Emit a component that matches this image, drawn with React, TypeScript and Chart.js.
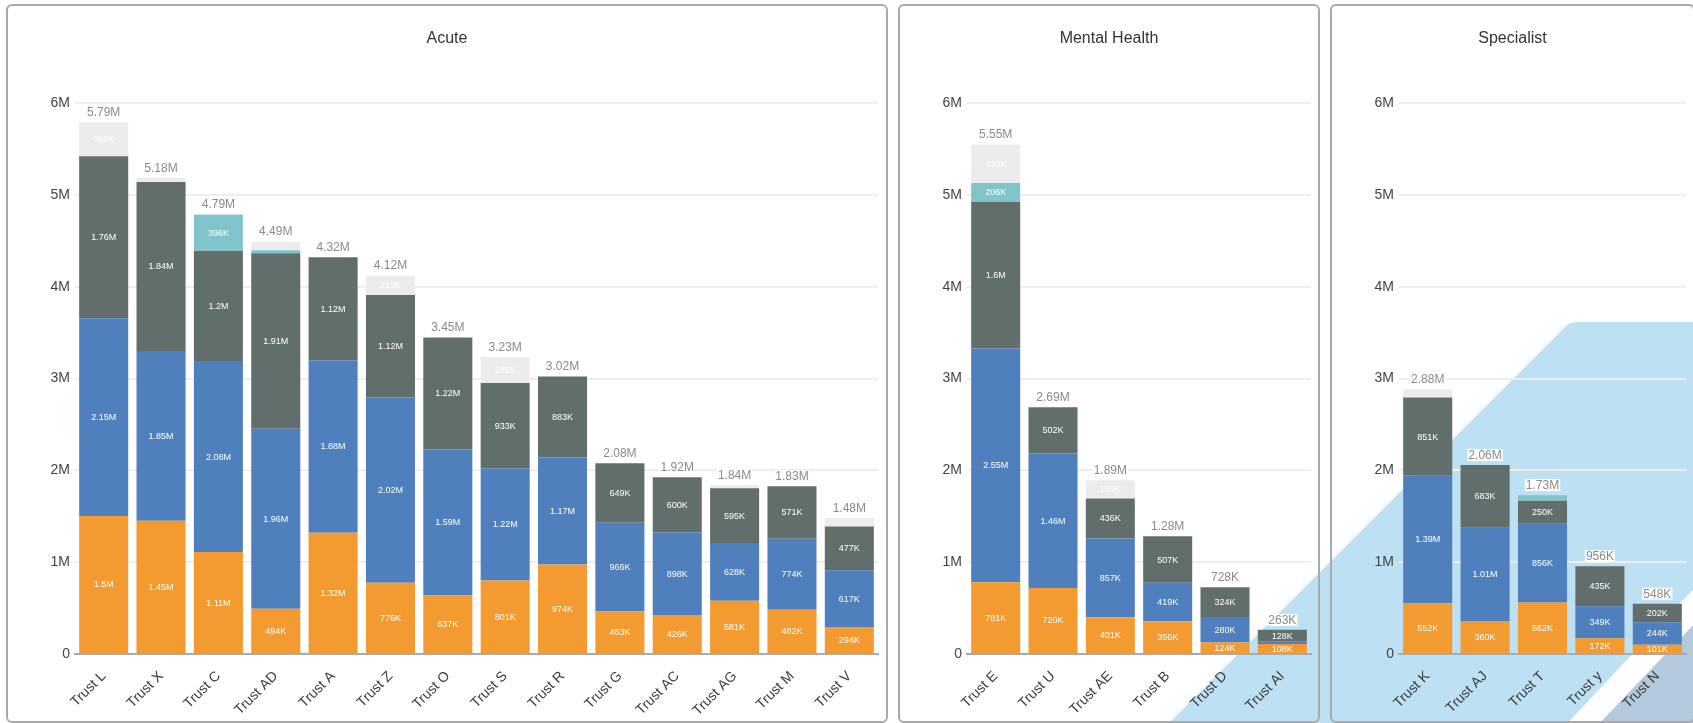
import React, { useEffect, useRef } from 'react';
import { Chart, registerables } from 'chart.js';

Chart.register(...registerables);

const FONT = "'Liberation Sans', Arial, Helvetica, sans-serif";
Chart.defaults.font.family = FONT;

// ---------- data ----------
const seriesNames = ['Band 1', 'Band 2', 'Band 3', 'Band 4', 'Band 5'];
const seriesColors = ['#f39a31', '#4f80bd', '#616e6b', '#81c4cc', '#ececec'];

const yTickValues = [0, 1000000, 2000000, 3000000, 4000000, 5000000, 6000000];
const yTickLabels = ['0', '1M', '2M', '3M', '4M', '5M', '6M'];

const acuteTrusts = ['Trust L', 'Trust X', 'Trust C', 'Trust AD', 'Trust A', 'Trust Z', 'Trust O', 'Trust S', 'Trust R', 'Trust G', 'Trust AC', 'Trust AG', 'Trust M', 'Trust V'];
const acuteOrange = [1504000, 1450000, 1110000, 494000, 1320000, 776000, 637000, 801000, 974000, 463000, 426000, 581000, 482000, 294000];
const acuteBlue = [2153000, 1850000, 2080000, 1960000, 1880000, 2016000, 1590000, 1218000, 1166000, 966000, 898000, 628000, 774000, 617000];
const acuteGrey = [1764000, 1840000, 1200000, 1910000, 1120000, 1118000, 1220000, 933000, 883000, 649000, 600000, 595000, 571000, 477000];
const acuteTeal = [0, 0, 396000, 33000, 0, 0, 0, 0, 0, 0, 0, 0, 0, 0];
const acuteLight = [369000, 42000, 0, 93000, 0, 210000, 0, 281000, 0, 0, 0, 36000, 0, 92000];

const mentalTrusts = ['Trust E', 'Trust U', 'Trust AE', 'Trust B', 'Trust D', 'Trust AI'];
const mentalOrange = [781000, 720000, 401000, 356000, 124000, 108000];
const mentalBlue = [2546000, 1464000, 857000, 419000, 280000, 27000];
const mentalGrey = [1596000, 502000, 436000, 507000, 324000, 128000];
const mentalTeal = [206000, 0, 0, 0, 0, 0];
const mentalLight = [420000, 0, 199000, 0, 0, 0];

const specialistTrusts = ['Trust K', 'Trust AJ', 'Trust T', 'Trust y', 'Trust N'];
const specialistOrange = [552000, 360000, 562000, 172000, 101400];
const specialistBlue = [1390000, 1014000, 856000, 349000, 244000];
const specialistGrey = [851000, 683000, 250000, 435000, 202400];
const specialistTeal = [0, 0, 62000, 0, 0];
const specialistLight = [87000, 0, 0, 0, 0];

// ---------- helpers ----------
const fmt = (v: number) =>
  v >= 1e6 ? parseFloat((v / 1e6).toPrecision(3)) + 'M' : Math.round(v / 1e3) + 'K';

const labelPlugin = {
  id: 'segLabels',
  afterDatasetsDraw(chart: any) {
    const ctx = chart.ctx;
    const n = chart.data.labels.length;
    ctx.save();
    ctx.textAlign = 'center';
    ctx.textBaseline = 'middle';
    ctx.font = `9px ${FONT}`;
    ctx.fillStyle = '#ffffff';
    chart.data.datasets.forEach((ds: any, i: number) => {
      const meta = chart.getDatasetMeta(i);
      meta.data.forEach((bar: any, j: number) => {
        const v = ds.data[j];
        if (v >= 100000) ctx.fillText(fmt(v), bar.x, (bar.y + bar.base) / 2 + 0.5);
      });
    });
    const ys = chart.scales.y;
    ctx.font = `12px ${FONT}`;
    for (let j = 0; j < n; j++) {
      const total = chart.data.datasets.reduce((s: number, ds: any) => s + (ds.data[j] || 0), 0);
      const bar = chart.getDatasetMeta(0).data[j];
      const ty = ys.getPixelForValue(total) - 10;
      const text = fmt(total);
      const w = ctx.measureText(text).width;
      ctx.fillStyle = '#ffffff';
      ctx.fillRect(bar.x - w / 2 - 1, ty - 6, w + 2, 12);
      ctx.fillStyle = '#8a8a8a';
      ctx.fillText(text, bar.x, ty + 0.5);
    }
    ctx.restore();
  },
};

type PanelCfg = {
  title: string;
  left: number;
  width: number;
  padRight: number;
  labels: string[];
  series: number[][];
};

const PANEL_TOP = 4;
const PANEL_H = 719;

const panels: PanelCfg[] = [
  { title: 'Acute', left: 6, width: 882, padRight: 8, labels: acuteTrusts, series: [acuteOrange, acuteBlue, acuteGrey, acuteTeal, acuteLight] },
  { title: 'Mental Health', left: 898, width: 422, padRight: 7, labels: mentalTrusts, series: [mentalOrange, mentalBlue, mentalGrey, mentalTeal, mentalLight] },
  { title: 'Specialist', left: 1330, width: 365, padRight: 7, labels: specialistTrusts, series: [specialistOrange, specialistBlue, specialistGrey, specialistTeal, specialistLight] },
];

function makeConfig(cfg: PanelCfg): any {
  return {
    type: 'bar',
    data: {
      labels: cfg.labels,
      datasets: cfg.series.map((s, i) => ({
        label: seriesNames[i],
        data: s,
        backgroundColor: seriesColors[i],
        borderWidth: 0,
        barPercentage: 0.855,
        categoryPercentage: 1,
        stack: 'total',
      })),
    },
    options: {
      animation: false,
      responsive: false,
      maintainAspectRatio: false,
      layout: { padding: { top: 97, right: cfg.padRight, bottom: 0, left: 0 } },
      plugins: { legend: { display: false }, tooltip: { enabled: false }, title: { display: false } },
      scales: {
        x: {
          stacked: true,
          grid: { display: false, drawTicks: false },
          border: { display: true, color: '#aaaaaa', width: 2 },
          ticks: {
            autoSkip: false,
            minRotation: 45,
            maxRotation: 45,
            padding: 14,
            color: '#3c3c3c',
            font: { size: 14, family: FONT },
          },
          afterFit: (s: any) => {
            s.height = 67;
          },
        },
        y: {
          stacked: true,
          min: 0,
          max: 6000000,
          grid: { color: '#eeeeee', lineWidth: 2, drawTicks: false },
          border: { display: false },
          afterBuildTicks: (s: any) => {
            s.ticks = yTickValues.map((v) => ({ value: v }));
          },
          ticks: {
            padding: 5,
            color: '#444444',
            font: { size: 14, family: FONT },
            callback: (v: number) => yTickLabels[yTickValues.indexOf(v)] ?? '',
          },
          afterFit: (s: any) => {
            s.width = 67;
          },
        },
      },
    },
    plugins: [labelPlugin],
  };
}

function Panel({ cfg }: { cfg: PanelCfg }) {
  const ref = useRef<HTMLCanvasElement>(null);
  const w = cfg.width - 4;
  const h = PANEL_H - 4;
  useEffect(() => {
    const chart = new Chart(ref.current as HTMLCanvasElement, makeConfig(cfg));
    return () => chart.destroy();
  }, []);
  return (
    <div
      style={{
        position: 'absolute',
        left: cfg.left,
        top: PANEL_TOP,
        width: cfg.width,
        height: PANEL_H,
        border: '2px solid #aaaaaa',
        borderRadius: 6,
        boxSizing: 'border-box',
      }}
    >
      <canvas ref={ref} width={w} height={h} style={{ position: 'absolute', left: 0, top: 0, width: w, height: h }} />
      <div
        style={{
          position: 'absolute',
          top: 22,
          left: 0,
          right: 0,
          textAlign: 'center',
          fontFamily: FONT,
          fontSize: 16,
          lineHeight: '20px',
          color: '#333333',
        }}
      >
        {cfg.title}
      </div>
    </div>
  );
}

export default function App() {
  return (
    <div style={{ position: 'fixed', left: 0, top: 0, width: '100vw', height: '100vh', overflow: 'hidden', background: '#ffffff' }}>
      <svg width={1693} height={723} style={{ position: 'absolute', left: 0, top: 0 }}>
        <path d="M1578 322 L1700 322 L1700 730 L1162 730 L1566 326 Q1570 322 1578 322 Z" fill="#bde0f2" />
        <path d="M1700 582 L1700 730 L1561 730 Z" fill="#ffffff" />
        <path d="M1700 618 L1700 730 L1593 730 Z" fill="#b5c9dc" />
      </svg>
      {panels.map((p) => (
        <Panel key={p.title} cfg={p} />
      ))}
    </div>
  );
}
